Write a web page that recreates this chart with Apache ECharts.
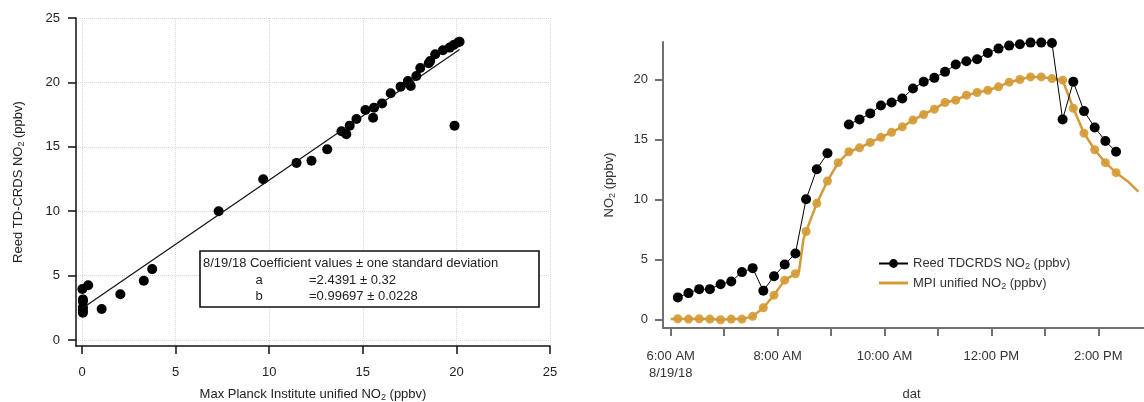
<!DOCTYPE html>
<html>
<head>
<meta charset="utf-8">
<script src="https://cdn.jsdelivr.net/npm/echarts@6/dist/echarts.min.js"></script>
<style>
html,body{margin:0;padding:0;background:#fff;}
#chart{width:1144px;height:402px;}
</style>
</head>
<body>
<div id="chart"></div>
<script>
// ---------- Left panel: scatter of Reed vs MPI ----------
const scatterMPI  = [0.02, 0.33, 0.05, 0.05, 0.05, 0.05, 0.05, 1.05, 2.05, 3.3, 3.75, 7.3, 9.68, 11.46, 12.26, 13.1, 13.86, 14.12, 14.3, 14.66, 15.14, 15.55, 15.6, 16.03, 16.49, 17.02, 17.41, 17.56, 17.86, 18.07, 18.52, 18.6, 18.87, 19.28, 19.64, 19.85, 20.08, 20.17, 19.9];
const scatterReed = [3.95, 4.25, 3.15, 2.98, 2.54, 2.3, 2.12, 2.4, 3.55, 4.6, 5.5, 10.0, 12.48, 13.75, 13.92, 14.8, 16.2, 15.97, 16.64, 17.16, 17.86, 17.26, 18.04, 18.37, 19.15, 19.67, 20.1, 19.72, 20.5, 21.12, 21.48, 21.66, 22.18, 22.5, 22.7, 22.9, 23.1, 23.16, 16.64];
const fitX = [0, 20.17];
const fitY = [2.44, 22.55];
const leftTicks = [0, 5, 10, 15, 20, 25];
const coefTitle = '8/19/18 Coefficient values \u00b1 one standard deviation';
const coefNames = ['a', 'b'];
const coefValues = ['=2.4391 \u00b1 0.32', '=0.99697 \u00b1 0.0228'];

// ---------- Right panel: time series ----------
const reedTimes = ['06:08','06:20','06:32','06:44','06:56','07:08','07:20','07:32','07:44','07:56','08:08','08:20','08:32','08:44','08:56','09:08','09:20','09:32','09:44','09:56','10:08','10:20','10:32','10:44','10:56','11:08','11:20','11:32','11:44','11:56','12:08','12:20','12:32','12:44','12:56','13:08','13:20','13:32','13:44','13:56','14:08','14:20'];
const reedNO2 = [1.86, 2.22, 2.55, 2.55, 2.95, 3.19, 3.97, 4.30, 2.41, 3.63, 4.6, 5.52, 10.04, 12.54, 13.87, null, 16.28, 16.7, 17.2, 17.85, 18.1, 18.44, 19.28, 19.83, 20.16, 20.66, 21.27, 21.55, 21.71, 22.24, 22.6, 22.85, 22.96, 23.1, 23.1, 23.07, 16.7, 19.83, 17.39, 16.03, 14.9, 14.0];
const mpiMarkerTimes = reedTimes;
const mpiMarkerNO2 = [0.08, 0.05, 0.08, 0.05, 0.0, 0.05, 0.05, 0.28, 1.0, 2.05, 3.3, 3.83, 7.35, 9.7, 11.56, 13.09, 14.0, 14.33, 14.78, 15.2, 15.63, 16.08, 16.64, 17.11, 17.55, 18.11, 18.3, 18.72, 18.94, 19.13, 19.41, 19.8, 20.02, 20.24, 20.24, 20.1, 19.97, 17.63, 15.55, 14.17, 13.09, 12.26];
const mpiLineTimes = ['06:00','06:08','06:20','06:32','06:44','06:56','07:08','07:20','07:32','07:44','07:56','08:08','08:20','08:24','08:29','08:32','08:44','08:56','09:08','09:20','09:32','09:44','09:56','10:08','10:20','10:32','10:44','10:56','11:08','11:20','11:32','11:44','11:56','12:08','12:20','12:32','12:44','12:56','13:08','13:20','13:32','13:44','13:56','14:08','14:20','14:33','14:45'];
const mpiLineNO2 = [0.05, 0.08, 0.05, 0.08, 0.05, 0.0, 0.05, 0.05, 0.28, 1.0, 2.05, 3.3, 3.83, 4.0, 6.7, 7.35, 9.7, 11.56, 13.09, 14.0, 14.33, 14.78, 15.2, 15.63, 16.08, 16.64, 17.11, 17.55, 18.11, 18.3, 18.72, 18.94, 19.13, 19.41, 19.8, 20.02, 20.24, 20.24, 20.1, 19.97, 17.63, 15.55, 14.17, 13.09, 12.26, 11.55, 10.68];
const rightYTicks = [0, 5, 10, 15, 20];
const hourTicks = [6, 7, 8, 9, 10, 11, 12, 13, 14];
const hourLabelValues = [6, 8, 10, 12, 14];
const hourLabelTexts = ['6:00 AM\n8/19/18', '8:00 AM', '10:00 AM', '12:00 PM', '2:00 PM'];
const seriesReed = 'Reed TDCRDS NO2 (ppbv)';
const seriesMPI = 'MPI unified NO2 (ppbv)';

function toHours(s){ const p = s.split(':'); return +p[0] + (+p[1])/60; }
function pairs(xs, ys){ return xs.map((x,i)=>[typeof x === 'string' ? toHours(x) : x, ys[i]]); }
function sub(str){ const k = str.indexOf('NO2'); return '{a|' + str.slice(0,k) + 'NO}{s|2}{a|' + str.slice(k+3) + '}'; }

const FONT = 'Liberation Sans, Arial, Helvetica, sans-serif';
const richL = { a: {fontSize: 13, fontFamily: FONT, color: '#222'}, s: {fontSize: 9, fontFamily: FONT, color: '#222', padding: [7,0,0,0]} };
const richR = { a: {fontSize: 13, fontFamily: FONT, color: '#333'}, s: {fontSize: 9, fontFamily: FONT, color: '#333', padding: [7,0,0,0]} };

const chart = echarts.init(document.getElementById('chart'), null, {renderer: 'canvas'});

const option = {
  animation: false,
  backgroundColor: '#fff',
  textStyle: {fontFamily: FONT},
  grid: [
    {left: 76, top: 18, width: 474, height: 328, containLabel: false, outerBoundsMode: 'none'},
    {left: 663, top: 42, width: 481, height: 286, containLabel: false, outerBoundsMode: 'none'}
  ],
  xAxis: [
    {
      gridIndex: 0, type: 'value', min: -0.32, max: 25,
      name: sub('Max Planck Institute unified NO2 (ppbv)'), nameLocation: 'middle', nameGap: 40,
      nameTextStyle: {rich: richL},
      axisLine: {onZero: false, lineStyle: {color: '#111', width: 1.5}},
      axisTick: {customValues: leftTicks, length: 8, lineStyle: {color: '#111', width: 1.5}},
      axisLabel: {customValues: leftTicks, margin: 20, fontSize: 13, color: '#222', fontFamily: FONT},
      splitLine: {show: true, lineStyle: {color: '#d3d6ea', type: 'dotted', width: 1}}
    },
    {
      gridIndex: 1, type: 'value', min: 5.856, max: 14.856,
      name: 'dat', nameLocation: 'middle', nameGap: 60,
      nameTextStyle: {fontSize: 13, color: '#333', fontFamily: FONT, padding: [0,0,0,16]},
      axisLine: {onZero: false, lineStyle: {color: '#707070', width: 2}},
      axisTick: {customValues: hourTicks, length: 8, lineStyle: {color: '#707070', width: 2}},
      axisLabel: {
        customValues: hourLabelValues, margin: 20, fontSize: 13, color: '#333', fontFamily: FONT, lineHeight: 17,
        formatter: v => { const i = hourLabelValues.findIndex(h => Math.abs(h - v) < 1e-6); return i >= 0 ? hourLabelTexts[i] : ''; }
      },
      splitLine: {show: false}
    }
  ],
  yAxis: [
    {
      gridIndex: 0, type: 'value', min: -0.47, max: 25,
      name: sub('Reed TD-CRDS NO2 (ppbv)'), nameLocation: 'middle', nameGap: 50, nameRotate: 90,
      nameTextStyle: {rich: richL},
      axisLine: {onZero: false, lineStyle: {color: '#111', width: 1.5}},
      axisTick: {customValues: leftTicks, length: 8, lineStyle: {color: '#111', width: 1.5}},
      axisLabel: {customValues: leftTicks, margin: 16, fontSize: 13, color: '#222', fontFamily: FONT},
      splitLine: {show: true, lineStyle: {color: '#d3d6ea', type: 'dotted', width: 1}}
    },
    {
      gridIndex: 1, type: 'value', min: -0.69, max: 23.15,
      name: sub('NO2 (ppbv)'), nameLocation: 'middle', nameGap: 46, nameRotate: 90,
      nameTextStyle: {rich: richR},
      axisLine: {show: true, onZero: false, lineStyle: {color: '#707070', width: 2}},
      axisTick: {show: true, customValues: rightYTicks, length: 8, lineStyle: {color: '#707070', width: 2}},
      axisLabel: {customValues: rightYTicks, margin: 15, fontSize: 13, color: '#333', fontFamily: FONT},
      splitLine: {show: false}
    }
  ],
  legend: {
    data: [
      {name: seriesReed},
      {name: seriesMPI, icon: 'path://M0,0 L40,0 L40,4 L0,4 Z'}
    ],
    orient: 'vertical', left: 873, top: 252, itemWidth: 29, itemHeight: 11, itemGap: 5,
    formatter: name => sub(name),
    textStyle: {rich: richR},
    selectedMode: false
  },
  graphic: [
    {type: 'rect', shape: {x: 200, y: 251, width: 339, height: 56}, style: {fill: '#fff', stroke: '#111', lineWidth: 1.6}, z: 100},
    {type: 'text', x: 203, y: 263, style: {text: coefTitle, fontSize: 13, fontFamily: FONT, fill: '#222', textVerticalAlign: 'middle'}, z: 101},
    {type: 'text', x: 259, y: 280, style: {text: coefNames[0], fontSize: 13, fontFamily: FONT, fill: '#222', textAlign: 'center', textVerticalAlign: 'middle'}, z: 101},
    {type: 'text', x: 309, y: 280, style: {text: coefValues[0], fontSize: 13, fontFamily: FONT, fill: '#222', textVerticalAlign: 'middle'}, z: 101},
    {type: 'text', x: 259, y: 296, style: {text: coefNames[1], fontSize: 13, fontFamily: FONT, fill: '#222', textAlign: 'center', textVerticalAlign: 'middle'}, z: 101},
    {type: 'text', x: 309, y: 296, style: {text: coefValues[1], fontSize: 13, fontFamily: FONT, fill: '#222', textVerticalAlign: 'middle'}, z: 101}
  ],
  series: [
    {
      type: 'line', xAxisIndex: 0, yAxisIndex: 0, data: pairs(fitX, fitY),
      showSymbol: false, symbol: 'none', lineStyle: {color: '#111', width: 1.2}, silent: true
    },
    {
      type: 'scatter', xAxisIndex: 0, yAxisIndex: 0, data: pairs(scatterMPI, scatterReed),
      symbol: 'circle', symbolSize: 10, itemStyle: {color: '#000', opacity: 1}
    },
    {
      name: seriesMPI, type: 'line', xAxisIndex: 1, yAxisIndex: 1, data: pairs(mpiLineTimes, mpiLineNO2),
      symbol: 'none', showSymbol: false, lineStyle: {color: '#D29B3A', width: 2.5}, itemStyle: {color: '#D29B3A'}
    },
    {
      type: 'scatter', xAxisIndex: 1, yAxisIndex: 1, data: pairs(mpiMarkerTimes, mpiMarkerNO2),
      symbol: 'circle', symbolSize: 9, itemStyle: {color: '#D9A343', opacity: 1}
    },
    {
      name: seriesReed, type: 'line', xAxisIndex: 1, yAxisIndex: 1, data: pairs(reedTimes, reedNO2),
      connectNulls: false, symbol: 'circle', symbolSize: 10, showSymbol: true,
      lineStyle: {color: '#000', width: 1}, itemStyle: {color: '#000', opacity: 1}
    }
  ]
};
chart.setOption(option);
</script>
</body>
</html>
